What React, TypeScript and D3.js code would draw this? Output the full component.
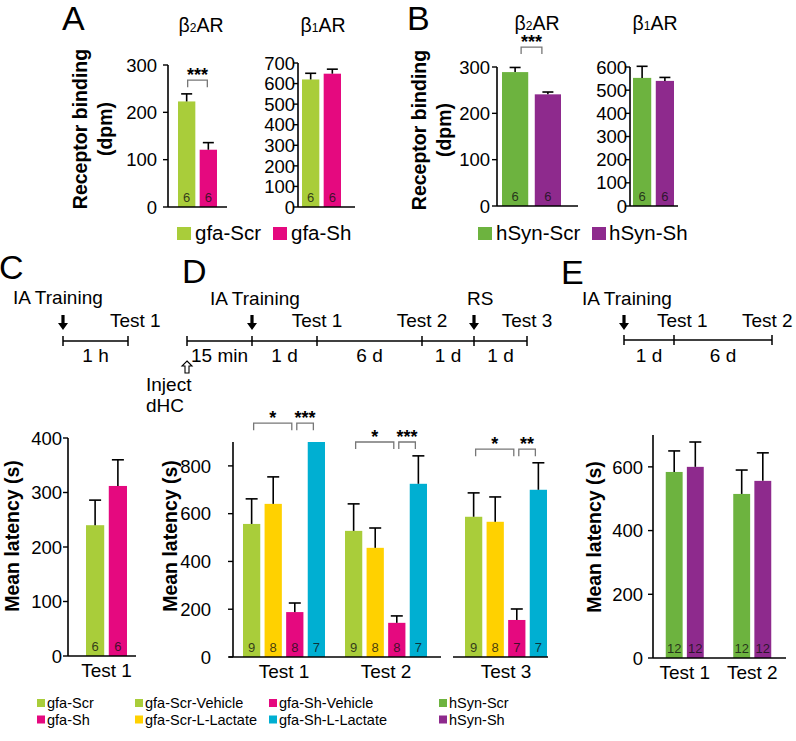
import React from "react";
import * as d3 from "d3";

const FONT = "'Liberation Sans', Arial, Helvetica, sans-serif";

// ---------- colours ----------
const COL_GFA_SCR = "#a9cd3a";
const COL_GFA_SH = "#e5097f";
const COL_HSYN_SCR = "#6db33f";
const COL_HSYN_SH = "#8e2a8d";
const COL_YELLOW = "#ffd100";
const COL_CYAN = "#00afd2";

// ---------- data ----------
const A_series = ["gfa-Scr", "gfa-Sh"];
const A_b2_mean = [223, 121];
const A_b2_err = [16, 15];
const A_b2_n = [6, 6];
const A_b2_ticks = [0, 100, 200, 300];
const A_b1_mean = [620, 648];
const A_b1_err = [30, 22];
const A_b1_n = [6, 6];
const A_b1_ticks = [0, 100, 200, 300, 400, 500, 600, 700];

const B_series = ["hSyn-Scr", "hSyn-Sh"];
const B_b2_mean = [289, 241];
const B_b2_err = [10, 5];
const B_b2_n = [6, 6];
const B_b2_ticks = [0, 100, 200, 300];
const B_b1_mean = [553, 540];
const B_b1_err = [50, 15];
const B_b1_n = [6, 6];
const B_b1_ticks = [0, 100, 200, 300, 400, 500, 600];

const C_tests = ["Test 1"];
const C_mean = [[240, 312]];
const C_err = [[46, 48]];
const C_n = [[6, 6]];
const C_ticks = [0, 100, 200, 300, 400];

const D_tests = ["Test 1", "Test 2", "Test 3"];
const D_series = ["gfa-Scr-Vehicle", "gfa-Scr-L-Lactate", "gfa-Sh-Vehicle", "gfa-Sh-L-Lactate"];
const D_mean = [
  [557, 641, 188, 900],
  [528, 457, 143, 725],
  [587, 566, 155, 700],
];
const D_err = [
  [105, 113, 38, 0],
  [113, 83, 29, 117],
  [100, 104, 46, 113],
];
const D_n = [
  [9, 8, 8, 7],
  [9, 8, 8, 7],
  [9, 8, 7, 7],
];
const D_ticks = [0, 200, 400, 600, 800];
const D_sig = [
  { test: 0, from: 0, to: 2, level: 979, label: "*" },
  { test: 0, from: 2, to: 3, level: 979, label: "***" },
  { test: 1, from: 0, to: 2, level: 900, label: "*" },
  { test: 1, from: 2, to: 3, level: 900, label: "***" },
  { test: 2, from: 0, to: 2, level: 870, label: "*" },
  { test: 2, from: 2, to: 3, level: 870, label: "**" },
];

const E_tests = ["Test 1", "Test 2"];
const E_mean = [[584, 600], [515, 556]];
const E_err = [[66, 78], [75, 88]];
const E_n = [[12, 12], [12, 12]];
const E_ticks = [0, 200, 400, 600];

const C_timeline_labels = { train: "IA Training", tests: ["Test 1"], durations: ["1 h"] };
const D_timeline_labels = {
  train: "IA Training",
  rs: "RS",
  tests: ["Test 1", "Test 2", "Test 3"],
  durations: ["15 min", "1 d", "6 d", "1 d", "1 d"],
};
const E_timeline_labels = { train: "IA Training", tests: ["Test 1", "Test 2"], durations: ["1 d", "6 d"] };

// ---------- generic bar panel ----------
type Sig = { test: number; from: number; to: number; level: number; label: string };

function BarPanel(props: {
  tests: string[];
  colors: string[];
  means: number[][];
  errs: number[][];
  ns: number[][];
  yMax: number;
  yTicks: number[];
  yBottom: number;
  yTop: number;
  axisX: number;
  axisEnd: number;
  groupRange: [number, number];
  innerWidth: number;
  labelGap: number;
  showTestLabels?: boolean;
  sig?: Sig[];
  sigInset?: [number, number];
  breakAfter?: number;
  breakGap?: number;
  segments?: [number, number][];
  capW?: number;
}) {
  const {
    tests, colors, means, errs, ns, yMax, yTicks, yBottom, yTop, axisX, axisEnd,
    groupRange, innerWidth, labelGap, showTestLabels, sig, sigInset = [1, 1],
    breakAfter, breakGap = 0, segments, capW = 11,
  } = props;
  const y = d3.scaleLinear().domain([0, yMax]).range([yBottom, yTop]);
  const gx = d3.scaleBand<string>().domain(tests).range(groupRange).paddingInner(0);
  const inner = d3
    .scaleBand<number>()
    .domain(d3.range(colors.length))
    .range([-innerWidth / 2, innerWidth / 2])
    .paddingInner(0.2);
  const center = (i: number) =>
    (gx(tests[i]) as number) + gx.bandwidth() / 2 + (breakAfter !== undefined && i > breakAfter ? breakGap : 0);
  const segs = segments || [[axisX, axisEnd]];
  return (
    <g fontFamily={FONT}>
      {means.map((row, gi) =>
        row.map((v, si) => {
          const x0 = center(gi) + (inner(si) as number);
          const bw = inner.bandwidth();
          const cx = x0 + bw / 2;
          const e = errs[gi][si];
          return (
            <g key={`b${gi}-${si}`}>
              <rect x={x0} y={y(v)} width={bw} height={y(0) - y(v)} fill={colors[si]} />
              {e > 0 && (
                <g stroke="#000" strokeWidth={1.6}>
                  <line x1={cx} x2={cx} y1={y(v)} y2={y(v + e)} />
                  <line x1={cx - capW / 2} x2={cx + capW / 2} y1={y(v + e)} y2={y(v + e)} />
                </g>
              )}
              <text x={cx} y={y(0) - 5} textAnchor="middle" fontSize={13} fill="#111" fillOpacity={0.8}>
                {ns[gi][si]}
              </text>
            </g>
          );
        })
      )}
      <line x1={axisX} x2={axisX} y1={y(0)} y2={y(yMax)} stroke="#000" strokeWidth={1.6} />
      {yTicks.map((t) => (
        <g key={`t${t}`}>
          <line x1={axisX - 5} x2={axisX} y1={y(t)} y2={y(t)} stroke="#000" strokeWidth={1.4} />
          <text x={axisX - labelGap} y={y(t)} dy="0.36em" textAnchor="end" fontSize={18.5} fill="#000">
            {t}
          </text>
        </g>
      ))}
      {segs.map((s, i) => (
        <line key={`s${i}`} x1={s[0]} x2={s[1]} y1={y(0)} y2={y(0)} stroke="#000" strokeWidth={1.6} />
      ))}
      {showTestLabels &&
        tests.map((t, i) => (
          <text key={`l${t}`} x={center(i)} y={y(0) + 21} textAnchor="middle" fontSize={19} fill="#000">
            {t}
          </text>
        ))}
      {sig &&
        sig.map((s, i) => {
          const bw = inner.bandwidth();
          const xa = center(s.test) + (inner(s.from) as number) + bw / 2 + sigInset[0];
          const xb = center(s.test) + (inner(s.to) as number) + bw / 2 - sigInset[1];
          const yy = y(s.level);
          return (
            <g key={`sig${i}`}>
              <path d={`M${xa},${yy + 7}V${yy}H${xb}V${yy + 7}`} fill="none" stroke="#777" strokeWidth={1.3} />
              <text x={(xa + xb) / 2} y={yy + 1} textAnchor="middle" fontSize={18} fontWeight="bold" fill="#000">
                {s.label}
              </text>
            </g>
          );
        })}
    </g>
  );
}

// ---------- timeline helpers ----------
function DownArrow({ x, tip }: { x: number; tip: number }) {
  return (
    <path
      d={`M${x - 1.6},${tip - 15}H${x + 1.6}V${tip - 7}H${x + 5}L${x},${tip}L${x - 5},${tip - 7}H${x - 1.6}Z`}
      fill="#000"
    />
  );
}
function UpHollowArrow({ x, tip }: { x: number; tip: number }) {
  return (
    <path
      d={`M${x},${tip}L${x + 5},${tip + 5}H${x + 2}V${tip + 12}H${x - 2}V${tip + 5}H${x - 5}Z`}
      fill="#fff"
      stroke="#000"
      strokeWidth={1.1}
    />
  );
}
function TimeLine({ ticks, y }: { ticks: number[]; y: number }) {
  return (
    <g stroke="#000" strokeWidth={1.5}>
      <line x1={ticks[0]} x2={ticks[ticks.length - 1]} y1={y} y2={y} />
      {ticks.map((t) => (
        <line key={t} x1={t} x2={t} y1={y - 5} y2={y + 5} />
      ))}
    </g>
  );
}

function Title({ x, y, sub }: { x: number; y: number; sub: string }) {
  return (
    <text x={x} y={y} textAnchor="middle" fontSize={19.5} fontFamily={FONT}>
      β<tspan fontSize={12}>{sub}</tspan>AR
    </text>
  );
}

function YLabel({ x, y, lines }: { x: number; y: number; lines: { text: string; dx: number }[] }) {
  return (
    <g fontFamily={FONT} fontWeight="bold" fontSize={19.5}>
      {lines.map((l, i) => (
        <text key={i} transform={`translate(${x + l.dx},${y}) rotate(-90)`} textAnchor="middle">
          {l.text}
        </text>
      ))}
    </g>
  );
}

export default function App() {
  const dTicks = [187, 252, 317, 422, 474, 527];
  const cTicks = [63, 128];
  const eTicks = [624, 674, 772];
  return (
    <svg
      width={796}
      height={741}
      style={{ position: "absolute", left: 0, top: 0, background: "#fff" }}
      fontFamily={FONT}
    >
      <rect width={796} height={741} fill="#fff" />
      <g fontSize={34} fontFamily={FONT}>
        <text x={62} y={30}>A</text>
        <text x={407} y={30}>B</text>
        <text x={-1} y={279}>C</text>
        <text x={182} y={283}>D</text>
        <text x={561} y={284}>E</text>
      </g>

      {/* ---------- A ---------- */}
      <Title x={201} y={32} sub="2" />
      <Title x={323} y={32} sub="1" />
      <YLabel x={87} y={129} lines={[{ text: "Receptor binding", dx: 0 }, { text: "(dpm)", dx: 25 }]} />
      <BarPanel
        tests={[""]}
        colors={[COL_GFA_SCR, COL_GFA_SH]}
        means={[A_b2_mean]}
        errs={[A_b2_err]}
        ns={[A_b2_n]}
        yMax={300}
        yTicks={A_b2_ticks}
        yBottom={207}
        yTop={65}
        axisX={168}
        axisEnd={227}
        groupRange={[168, 227]}
        innerWidth={39}
        labelGap={11}
        sig={[{ test: 0, from: 0, to: 1, level: 268, label: "***" }]}
        sigInset={[1, 1]}
      />
      <BarPanel
        tests={[""]}
        colors={[COL_GFA_SCR, COL_GFA_SH]}
        means={[A_b1_mean]}
        errs={[A_b1_err]}
        ns={[A_b1_n]}
        yMax={700}
        yTicks={A_b1_ticks}
        yBottom={207}
        yTop={63}
        axisX={298}
        axisEnd={355}
        groupRange={[298, 345]}
        innerWidth={39}
        labelGap={3}
      />
      <g fontFamily={FONT} fontSize={20.5}>
        {A_series.map((s, i) => (
          <g key={s}>
            <rect x={[177, 273][i]} y={227} width={14} height={13} fill={[COL_GFA_SCR, COL_GFA_SH][i]} />
            <text x={[195, 291][i]} y={240}>{s}</text>
          </g>
        ))}
      </g>

      {/* ---------- B ---------- */}
      <Title x={537} y={30} sub="2" />
      <Title x={655} y={30} sub="1" />
      <YLabel x={426} y={130} lines={[{ text: "Receptor binding", dx: 0 }, { text: "(dpm)", dx: 25 }]} />
      <BarPanel
        tests={[""]}
        colors={[COL_HSYN_SCR, COL_HSYN_SH]}
        means={[B_b2_mean]}
        errs={[B_b2_err]}
        ns={[B_b2_n]}
        yMax={300}
        yTicks={B_b2_ticks}
        yBottom={206}
        yTop={67}
        axisX={497}
        axisEnd={578}
        groupRange={[497, 566]}
        innerWidth={59}
        labelGap={7}
        sig={[{ test: 0, from: 0, to: 1, level: 343, label: "***" }]}
        sigInset={[6, 6]}
      />
      <BarPanel
        tests={[""]}
        colors={[COL_HSYN_SCR, COL_HSYN_SH]}
        means={[B_b1_mean]}
        errs={[B_b1_err]}
        ns={[B_b1_n]}
        yMax={600}
        yTicks={B_b1_ticks}
        yBottom={206}
        yTop={67}
        axisX={630}
        axisEnd={678}
        groupRange={[630, 677]}
        innerWidth={41}
        labelGap={3}
      />
      <g fontFamily={FONT} fontSize={20.5}>
        {B_series.map((s, i) => (
          <g key={s}>
            <rect x={[478, 592][i]} y={227} width={14} height={13} fill={[COL_HSYN_SCR, COL_HSYN_SH][i]} />
            <text x={[496, 609][i]} y={240}>{s}</text>
          </g>
        ))}
      </g>

      {/* ---------- timelines ---------- */}
      <g fontFamily={FONT} fontSize={19}>
        <text x={13} y={304}>{C_timeline_labels.train}</text>
        <DownArrow x={cTicks[0]} tip={330} />
        <TimeLine ticks={cTicks} y={341} />
        <text x={110} y={327}>{C_timeline_labels.tests[0]}</text>
        <text x={(cTicks[0] + cTicks[1]) / 2} y={362} textAnchor="middle">{C_timeline_labels.durations[0]}</text>

        <text x={210} y={305}>{D_timeline_labels.train}</text>
        <text x={467} y={305}>{D_timeline_labels.rs}</text>
        <DownArrow x={dTicks[1]} tip={330} />
        <DownArrow x={dTicks[4]} tip={330} />
        <TimeLine ticks={dTicks} y={341} />
        {D_timeline_labels.tests.map((t, i) => (
          <text key={t} x={[dTicks[2], dTicks[3], dTicks[5]][i]} y={327} textAnchor="middle">{t}</text>
        ))}
        {D_timeline_labels.durations.map((t, i) => (
          <text key={i} x={(dTicks[i] + dTicks[i + 1]) / 2} y={362} textAnchor="middle">{t}</text>
        ))}
        <UpHollowArrow x={dTicks[0]} tip={361} />
        <text x={146} y={391}>Inject</text>
        <text x={146} y={412}>dHC</text>

        <text x={582} y={305}>{E_timeline_labels.train}</text>
        <DownArrow x={eTicks[0]} tip={330} />
        <TimeLine ticks={eTicks} y={340} />
        <text x={657} y={327}>{E_timeline_labels.tests[0]}</text>
        <text x={742} y={327}>{E_timeline_labels.tests[1]}</text>
        {E_timeline_labels.durations.map((t, i) => (
          <text key={i} x={(eTicks[i] + eTicks[i + 1]) / 2} y={362} textAnchor="middle">{t}</text>
        ))}
      </g>

      {/* ---------- C ---------- */}
      <YLabel x={19} y={536} lines={[{ text: "Mean latency (s)", dx: 0 }]} />
      <BarPanel
        tests={C_tests}
        colors={[COL_GFA_SCR, COL_GFA_SH]}
        means={C_mean}
        errs={C_err}
        ns={C_n}
        yMax={400}
        yTicks={C_ticks}
        yBottom={656}
        yTop={438}
        axisX={68}
        axisEnd={136}
        groupRange={[68, 145]}
        innerWidth={41}
        labelGap={6}
        showTestLabels
        capW={12}
      />

      {/* ---------- D ---------- */}
      <YLabel x={177} y={536} lines={[{ text: "Mean latency (s)", dx: 0 }]} />
      <BarPanel
        tests={D_tests}
        colors={[COL_GFA_SCR, COL_YELLOW, COL_GFA_SH, COL_CYAN]}
        means={D_mean}
        errs={D_err}
        ns={D_n}
        yMax={900}
        yTicks={D_ticks}
        yBottom={657}
        yTop={442}
        axisX={233}
        axisEnd={441}
        groupRange={[233, 539]}
        innerWidth={82}
        labelGap={22}
        showTestLabels
        sig={D_sig}
        sigInset={[2, 3]}
        breakAfter={1}
        breakGap={18}
        segments={[[229, 441], [453, 548]]}
        capW={12}
      />

      {/* ---------- E ---------- */}
      <YLabel x={601} y={537} lines={[{ text: "Mean latency (s)", dx: 0 }]} />
      <BarPanel
        tests={E_tests}
        colors={[COL_HSYN_SCR, COL_HSYN_SH]}
        means={E_mean}
        errs={E_err}
        ns={E_n}
        yMax={700}
        yTicks={E_ticks}
        yBottom={658}
        yTop={435}
        axisX={653}
        axisEnd={786}
        groupRange={[651, 786]}
        innerWidth={38}
        labelGap={10}
        showTestLabels
        capW={12}
      />

      {/* ---------- bottom legends ---------- */}
      <g fontFamily={FONT} fontSize={14.5}>
        {[
          { x: 37, y: 0, c: COL_GFA_SCR, t: A_series[0] },
          { x: 37, y: 1, c: COL_GFA_SH, t: A_series[1] },
          { x: 135, y: 0, c: COL_GFA_SCR, t: D_series[0] },
          { x: 135, y: 1, c: COL_YELLOW, t: D_series[1] },
          { x: 269, y: 0, c: COL_GFA_SH, t: D_series[2] },
          { x: 269, y: 1, c: COL_CYAN, t: D_series[3] },
          { x: 439, y: 0, c: COL_HSYN_SCR, t: B_series[0] },
          { x: 439, y: 1, c: COL_HSYN_SH, t: B_series[1] },
        ].map((l, i) => (
          <g key={i}>
            <rect x={l.x} y={699 + l.y * 16.5} width={8} height={8} fill={l.c} />
            <text x={l.x + 10} y={708 + l.y * 16.5}>{l.t}</text>
          </g>
        ))}
      </g>
    </svg>
  );
}
